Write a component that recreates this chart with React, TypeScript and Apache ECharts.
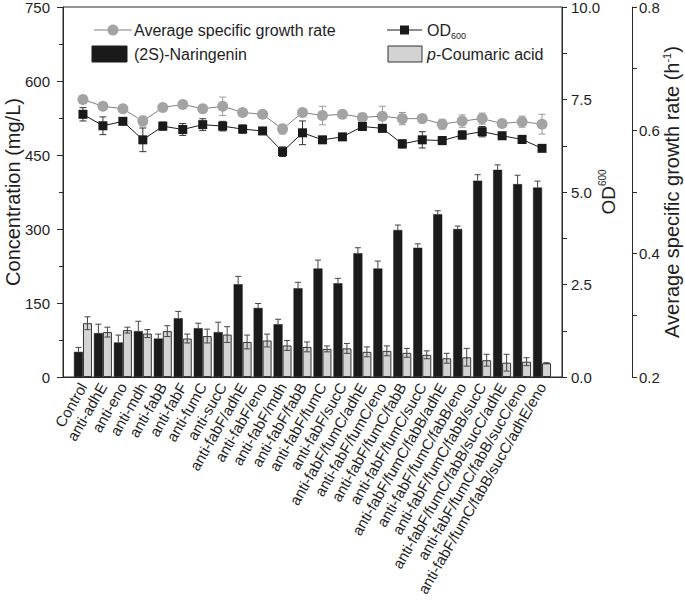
import React, { useEffect, useRef } from "react";
import * as echarts from "echarts";

const categories = [
  "Control", "anti-adhE", "anti-eno", "anti-mdh", "anti-fabB", "anti-fabF", "anti-fumC", "anti-sucC",
  "anti-fabF/adhE", "anti-fabF/eno", "anti-fabF/mdh", "anti-fabF/fabB", "anti-fabF/fumC", "anti-fabF/sucC",
  "anti-fabF/fumC/adhE", "anti-fabF/fumC/eno", "anti-fabF/fumC/fabB", "anti-fabF/fumC/sucC",
  "anti-fabF/fumC/fabB/adhE", "anti-fabF/fumC/fabB/eno", "anti-fabF/fumC/fabB/sucC",
  "anti-fabF/fumC/fabB/sucC/adhE", "anti-fabF/fumC/fabB/sucC/eno", "anti-fabF/fumC/fabB/sucC/adhE/eno",
];

const naringenin = [51, 89, 70, 93, 78, 119, 99, 91, 188, 140, 107, 180, 220, 190, 251, 220, 298, 262, 330, 300, 398, 420, 391, 384];
const naringeninErr = [9, 18, 15, 20, 9, 14, 10, 20, 16, 9, 10, 12, 17, 10, 11, 15, 10, 8, 7, 6, 12, 10, 18, 13];
const coumaric = [109, 91, 95, 88, 93, 78, 83, 86, 71, 74, 64, 61, 57, 58, 51, 53, 49, 45, 38, 40, 34, 29, 31, 28];
const coumaricErr = [13, 10, 6, 8, 11, 9, 14, 16, 14, 13, 10, 10, 6, 10, 10, 10, 9, 8, 10, 18, 12, 17, 8, 1];
const od600 = [7.10, 6.79, 6.91, 6.41, 6.78, 6.69, 6.82, 6.78, 6.70, 6.65, 6.09, 6.60, 6.41, 6.49, 6.77, 6.72, 6.30, 6.41, 6.39, 6.54, 6.63, 6.52, 6.42, 6.18];
const od600Err = [0.18, 0.24, 0.07, 0.32, 0.11, 0.16, 0.16, 0.13, 0.11, 0.07, 0.13, 0.32, 0.07, 0.07, 0.07, 0.09, 0.11, 0.22, 0.11, 0.11, 0.14, 0.09, 0.11, 0.05];
const growthRate = [0.650, 0.639, 0.635, 0.615, 0.637, 0.642, 0.635, 0.639, 0.629, 0.626, 0.602, 0.629, 0.624, 0.626, 0.621, 0.623, 0.619, 0.619, 0.610, 0.615, 0.619, 0.611, 0.614, 0.610];
const growthRateErr = [0.0065, 0.005, 0.005, 0.008, 0.003, 0.006, 0.004, 0.015, 0.005, 0.003, 0.008, 0.004, 0.015, 0.003, 0.006, 0.016, 0.010, 0.006, 0.008, 0.010, 0.009, 0.005, 0.009, 0.016];

const concTicks = { min: 0, max: 750, interval: 150 };
const odTicks = { min: 0, max: 10, interval: 2.5 };
const growthTicks = { min: 0.2, max: 0.8, interval: 0.2 };

const FONT = "'Liberation Sans', Arial, Helvetica, sans-serif";
const AXIS = "#2a2a2a";
const TEXT = "#1e1e1e";

export default function App() {
  const ref = useRef<HTMLDivElement>(null);
  useEffect(() => {
    if (!ref.current) return;
    const chart = echarts.init(ref.current, null, { renderer: "svg" });
    const xCats = ["", ...categories, ""];
    const pad = (arr: any[]) => [null, ...arr, null];

    const errData = (vals: number[], errs: number[], upperOnly: boolean) =>
      vals.map((v, i) => [i + 1, upperOnly ? v : v - errs[i], v + errs[i]]);

    const makeErr = (offset: number, cap: number, color: string, lowerCap: boolean) =>
      (params: any, api: any) => {
        const x = api.value(0);
        const lo = api.coord([x, api.value(1)]);
        const hi = api.coord([x, api.value(2)]);
        const cx = lo[0] + offset;
        const st = { stroke: color, lineWidth: 1 };
        const children: any[] = [
          { type: "line", shape: { x1: cx, y1: lo[1], x2: cx, y2: hi[1] }, style: st },
          { type: "line", shape: { x1: cx - cap / 2, y1: hi[1], x2: cx + cap / 2, y2: hi[1] }, style: st },
        ];
        if (lowerCap) children.push({ type: "line", shape: { x1: cx - cap / 2, y1: lo[1], x2: cx + cap / 2, y2: lo[1] }, style: st });
        return { type: "group", children };
      };

    const tickStyle = { lineStyle: { color: AXIS, width: 1 } };
    const labelStyle = { color: TEXT, fontSize: 15, fontFamily: FONT };

    const option: any = {
      animation: false,
      backgroundColor: "#ffffff",
      grid: {
        left: 63, right: 123, top: 7, bottom: 228, show: true, borderColor: AXIS, borderWidth: 1,
        backgroundColor: "transparent", containLabel: false, outerBoundsMode: "none",
      },
      xAxis: {
        type: "category",
        data: xCats,
        boundaryGap: false,
        axisLine: { lineStyle: { color: AXIS, width: 1 } },
        axisTick: { show: false },
        splitLine: { show: false },
        axisLabel: { interval: 0, rotate: 60, margin: 7, color: TEXT, fontSize: 15, fontFamily: FONT },
      },
      yAxis: [
        {
          type: "value", position: "left", ...concTicks,
          name: "Concentration (mg/L)", nameLocation: "middle", nameGap: 40, nameRotate: 90, nameMoveOverlap: false,
          nameTextStyle: { color: TEXT, fontSize: 20, fontFamily: FONT },
          axisLine: { show: true, lineStyle: { color: AXIS, width: 1 } },
          axisTick: { show: true, length: 6, ...tickStyle },
          minorTick: { show: true, splitNumber: 2, length: 4, ...tickStyle },
          splitLine: { show: false },
          axisLabel: { ...labelStyle, margin: 13 },
        },
        {
          type: "value", position: "right", offset: 0, ...odTicks,
          name: "{a|OD}{b|600}", nameLocation: "middle", nameGap: 35, nameRotate: 90, nameMoveOverlap: false,
          nameTextStyle: {
            color: TEXT, fontFamily: FONT,
            rich: {
              a: { fontSize: 19, lineHeight: 22, verticalAlign: "middle", color: TEXT, fontFamily: FONT },
              b: { fontSize: 10, lineHeight: 22, verticalAlign: "top", color: TEXT, fontFamily: FONT },
            },
          },
          axisLine: { show: true, lineStyle: { color: AXIS, width: 1 } },
          axisTick: { show: true, length: 5, ...tickStyle },
          minorTick: { show: true, splitNumber: 2, length: 5, ...tickStyle },
          splitLine: { show: false },
          axisLabel: { ...labelStyle, margin: 9, formatter: (v: number) => v.toFixed(1) },
        },
        {
          type: "value", position: "right", offset: 70, ...growthTicks,
          name: "{n|Average specific growth rate (h}{s|-1}{n|)}", nameLocation: "middle", nameGap: 29, nameRotate: 90, nameMoveOverlap: false,
          nameTextStyle: {
            color: TEXT, fontFamily: FONT,
            rich: {
              n: { fontSize: 20, lineHeight: 22, verticalAlign: "middle", color: TEXT, fontFamily: FONT },
              s: { fontSize: 11, lineHeight: 22, verticalAlign: "top", color: TEXT, fontFamily: FONT },
            },
          },
          axisLine: { show: true, lineStyle: { color: AXIS, width: 1 } },
          axisTick: { show: true, length: 5, ...tickStyle },
          minorTick: { show: true, splitNumber: 2, length: 5, ...tickStyle },
          splitLine: { show: false },
          axisLabel: { ...labelStyle, margin: 7, formatter: (v: number) => v.toFixed(1) },
        },
      ],
      graphic: [
        { type: "line", shape: { x1: 94, y1: 30, x2: 132, y2: 30 }, style: { stroke: "#808080", lineWidth: 1 } },
        { type: "circle", shape: { cx: 113, cy: 30, r: 5.5 }, style: { fill: "#a3a3a3" } },
        { type: "text", x: 134, y: 30, style: { text: "Average specific growth rate", fontSize: 16, fontFamily: FONT, fill: TEXT, verticalAlign: "middle" } },
        { type: "rect", shape: { x: 92, y: 46, width: 35, height: 16 }, style: { fill: "#1a1a1a", stroke: "#1a1a1a", lineWidth: 1 } },
        { type: "text", x: 134, y: 54, style: { text: "(2S)-Naringenin", fontSize: 16, fontFamily: FONT, fill: TEXT, verticalAlign: "middle" } },
        { type: "line", shape: { x1: 387, y1: 30, x2: 422, y2: 30 }, style: { stroke: "#1a1a1a", lineWidth: 1 } },
        { type: "rect", shape: { x: 400, y: 25.5, width: 9, height: 9 }, style: { fill: "#1a1a1a" } },
        {
          type: "text", x: 427, y: 30,
          style: {
            text: "{a|OD}{b|600}", fill: TEXT, verticalAlign: "middle",
            rich: {
              a: { fontSize: 16, lineHeight: 20, verticalAlign: "middle", fontFamily: FONT, fill: TEXT },
              b: { fontSize: 9, lineHeight: 20, verticalAlign: "bottom", fontFamily: FONT, fill: TEXT },
            },
          },
        },
        { type: "rect", shape: { x: 388, y: 46, width: 34, height: 16 }, style: { fill: "#d3d3d3", stroke: "#333333", lineWidth: 1 } },
        {
          type: "text", x: 427, y: 54,
          style: {
            text: "{i|p}{a|-Coumaric acid}", fill: TEXT, verticalAlign: "middle",
            rich: {
              i: { fontSize: 16, fontStyle: "italic", fontFamily: FONT, fill: TEXT },
              a: { fontSize: 16, fontFamily: FONT, fill: TEXT },
            },
          },
        },
      ],
      series: [
        {
          name: "(2S)-Naringenin", type: "bar", yAxisIndex: 0, data: pad(naringenin),
          barWidth: 9, barGap: "0%",
          itemStyle: { color: "#1b1b1b", borderColor: "#1b1b1b", borderWidth: 0.5 }, z: 2,
        },
        {
          name: "p-Coumaric acid", type: "bar", yAxisIndex: 0, data: pad(coumaric),
          barWidth: 9, barGap: "0%",
          itemStyle: { color: "#d3d3d3", borderColor: "#333333", borderWidth: 1 }, z: 2,
        },
        {
          type: "custom", yAxisIndex: 0, data: errData(naringenin, naringeninErr, true),
          encode: { x: 0, y: [1, 2] }, renderItem: makeErr(-4.5, 6, "#444444", false), z: 3, silent: true,
        },
        {
          type: "custom", yAxisIndex: 0, data: errData(coumaric, coumaricErr, false),
          encode: { x: 0, y: [1, 2] }, renderItem: makeErr(4.5, 6, "#444444", true), z: 3, silent: true,
        },
        {
          type: "custom", yAxisIndex: 2, data: errData(growthRate, growthRateErr, false),
          encode: { x: 0, y: [1, 2] }, renderItem: makeErr(0, 7, "#9a9a9a", true), z: 4, silent: true,
        },
        {
          type: "custom", yAxisIndex: 1, data: errData(od600, od600Err, false),
          encode: { x: 0, y: [1, 2] }, renderItem: makeErr(0, 7, "#333333", true), z: 4, silent: true,
        },
        {
          name: "Average specific growth rate", type: "line", yAxisIndex: 2, data: pad(growthRate),
          symbol: "circle", symbolSize: 11, itemStyle: { color: "#a3a3a3" },
          lineStyle: { color: "#808080", width: 1 }, z: 5,
        },
        {
          name: "OD600", type: "line", yAxisIndex: 1, data: pad(od600),
          symbol: "rect", symbolSize: 9, itemStyle: { color: "#1a1a1a" },
          lineStyle: { color: "#1a1a1a", width: 1 }, z: 6,
        },
      ],
    };
    chart.setOption(option);
    return () => chart.dispose();
  }, []);
  return <div ref={ref} style={{ position: "absolute", left: 0, top: 0, width: 685, height: 605 }} />;
}
